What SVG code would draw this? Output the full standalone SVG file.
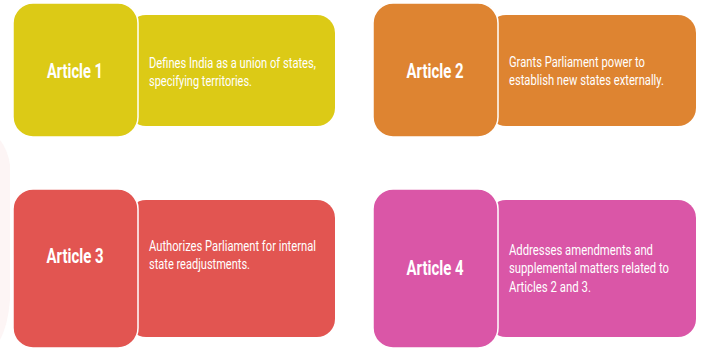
<svg xmlns="http://www.w3.org/2000/svg" width="716" height="349" viewBox="0 0 716 349">
<style>
.title{font-family:Roboto,"Liberation Sans",sans-serif;font-weight:bold;font-size:19.5px;fill:#ffffff;text-anchor:middle}
.desc{font-family:Roboto,"Liberation Sans",sans-serif;font-size:14px;fill:#ffffff}
.tab{stroke:#ffffff;stroke-width:1.5}
</style>
<rect width="716" height="349" fill="#ffffff"/>
<path d="M0 140 Q8 150 10 165 L10 300 Q8 325 0 340 Z" fill="#fdf5f5"/>
<g id="article1">
<rect x="128" y="15" width="207" height="111" rx="18" fill="#dcca16"/>
<rect class="tab" x="13" y="3" width="125" height="134" rx="20" fill="#dcca16"/>
<text class="title" x="75" y="78" textLength="56" lengthAdjust="spacingAndGlyphs">Article 1</text>
<text class="desc" x="149" y="68" textLength="167" lengthAdjust="spacingAndGlyphs">Defines India as a union of states,</text>
<text class="desc" x="149" y="86" textLength="103" lengthAdjust="spacingAndGlyphs">specifying territories.</text>
</g>
<g id="article2">
<rect x="488" y="15" width="208" height="111" rx="18" fill="#de8431"/>
<rect class="tab" x="373" y="3" width="125" height="134" rx="20" fill="#de8431"/>
<text class="title" x="435" y="78" textLength="57" lengthAdjust="spacingAndGlyphs">Article 2</text>
<text class="desc" x="509" y="67" textLength="136" lengthAdjust="spacingAndGlyphs">Grants Parliament power to</text>
<text class="desc" x="509" y="85" textLength="155" lengthAdjust="spacingAndGlyphs">establish new states externally.</text>
</g>
<g id="article3">
<rect x="128" y="200" width="207" height="137" rx="18" fill="#e25551"/>
<rect class="tab" x="13" y="189" width="125" height="159" rx="20" fill="#e25551"/>
<text class="title" x="75" y="263" textLength="57" lengthAdjust="spacingAndGlyphs">Article 3</text>
<text class="desc" x="149" y="251" textLength="167" lengthAdjust="spacingAndGlyphs">Authorizes Parliament for internal</text>
<text class="desc" x="149" y="269" textLength="101" lengthAdjust="spacingAndGlyphs">state readjustments.</text>
</g>
<g id="article4">
<rect x="488" y="200" width="208" height="137" rx="18" fill="#da56a7"/>
<rect class="tab" x="373" y="189" width="125" height="159" rx="20" fill="#da56a7"/>
<text class="title" x="435" y="275" textLength="57" lengthAdjust="spacingAndGlyphs">Article 4</text>
<text class="desc" x="509" y="255" textLength="144" lengthAdjust="spacingAndGlyphs">Addresses amendments and</text>
<text class="desc" x="509" y="273" textLength="160" lengthAdjust="spacingAndGlyphs">supplemental matters related to</text>
<text class="desc" x="509" y="292" textLength="82" lengthAdjust="spacingAndGlyphs">Articles 2 and 3.</text>
</g>
<g id="connectors"></g>
</svg>
